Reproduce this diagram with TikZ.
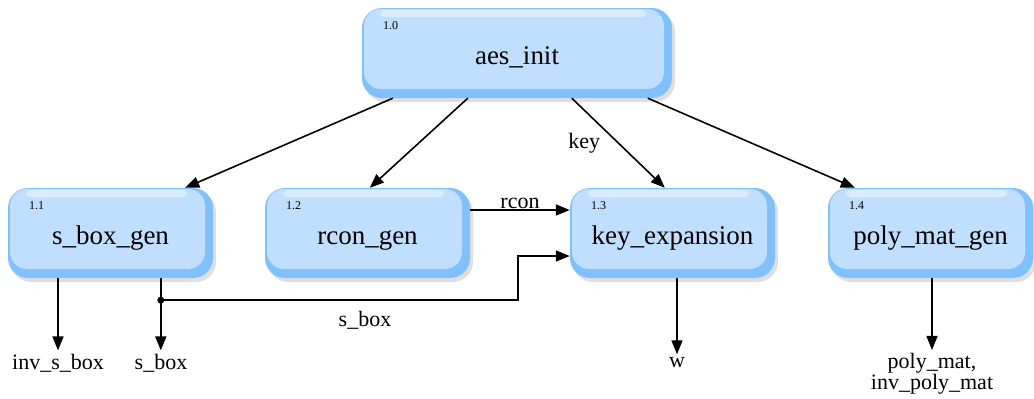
\documentclass[tikz,border=0pt]{standalone}
\usepackage{fontspec}
\setmainfont{Liberation Serif}
\usetikzlibrary{arrows.meta,calc,shadows}

\definecolor{faceblue}{RGB}{192,223,254}
\definecolor{edgeblue}{RGB}{128,192,252}
\definecolor{hiblue}{RGB}{218,236,255}

\begin{document}
\begin{tikzpicture}[x=1pt,y=1pt,
  proc/.style={rectangle, rounded corners=20pt, fill=edgeblue,
    minimum width=205pt, minimum height=90pt, inner sep=0pt,
    text height=26pt, text depth=4pt,
    font=\fontsize{27}{31}\selectfont,
    drop shadow={shadow xshift=3pt, shadow yshift=-4pt, opacity=0.25},
    path picture={
      \fill[faceblue, rounded corners=17pt]
        ([xshift=2pt,yshift=-1pt]path picture bounding box.north west)
        rectangle ([xshift=-8pt,yshift=9pt]path picture bounding box.south east);
      \fill[hiblue, rounded corners=4pt]
        ([xshift=18pt,yshift=-2pt]path picture bounding box.north west)
        rectangle ([xshift=-26pt,yshift=-9pt]path picture bounding box.north east);
    }},
  idx/.style={anchor=north west, inner sep=0pt, xshift=21pt, yshift=-14pt,
    font=\fontsize{12}{14}\selectfont},
  lbl/.style={font=\fontsize{22}{25}\selectfont},
  flow/.style={-{Triangle[length=14pt,width=11pt]}, line width=1.6pt}]

  \useasboundingbox (0,0) rectangle (1034,-399);

  % processes
  \node[proc, minimum width=310pt, label={[idx]north west:1.0}] (init) at (517,-53) {aes\_init};
  \node[proc, label={[idx]north west:1.1}] (sbox) at (110.5,-233) {s\_box\_gen};
  \node[proc, label={[idx]north west:1.2}] (rcon) at (367.5,-233) {rcon\_gen};
  \node[proc, label={[idx]north west:1.3}] (keyx) at (672.5,-233) {key\_expansion};
  \node[proc, label={[idx]north west:1.4}] (poly) at (930.5,-233) {poly\_mat\_gen};

  % outputs
  \node[lbl] (invsboxout) at (58,-363) {inv\_s\_box};
  \node[lbl] (sboxout) at (161,-363) {s\_box};
  \node[lbl] (wout) at (677,-363) {w};
  \node[lbl, align=center] (polyout) at (932,-374) {poly\_mat,\\[-4pt]inv\_poly\_mat};

  % calls from aes_init
  \draw[flow] ($(init.south west)+(31,0)$) -- ($(sbox.north east)+(-28,0)$);
  \draw[flow] ($(init.south west)+(106,0)$) -- ($(rcon.north west)+(105,0)$);
  \draw[flow] ($(init.south west)+(210,0)$) -- node[lbl, left, xshift=-14pt] {key} ($(keyx.north west)+(95,0)$);
  \draw[flow] ($(init.south west)+(286,0)$) -- ($(poly.north west)+(27,0)$);

  % data between processes
  \draw[flow] ($(rcon.east)+(0,23)$) -- node[lbl, above, yshift=-3pt] {rcon} ($(keyx.west)+(0,23)$);
  \coordinate (split) at ($(sbox.south west)+(153,-22)$);
  \draw[line width=1.6pt] (split |- sbox.south) -- (split);
  \fill (split) circle (3.5pt);
  \draw[flow] (split) -| ($(keyx.west)+(-52,-23)$) -- ($(keyx.west)+(0,-23)$);
  \node[lbl] (sboxlbl) at (365,-320) {s\_box};

  % outputs of processes
  \draw[flow] (split) -- (split |- sboxout.north);
  \draw[flow] (invsboxout.north |- sbox.south) -- (invsboxout.north);
  \draw[flow] (wout.north |- keyx.south) -- (wout.north);
  \draw[flow] (polyout.north |- poly.south) -- (polyout.north);
\end{tikzpicture}
\end{document}
